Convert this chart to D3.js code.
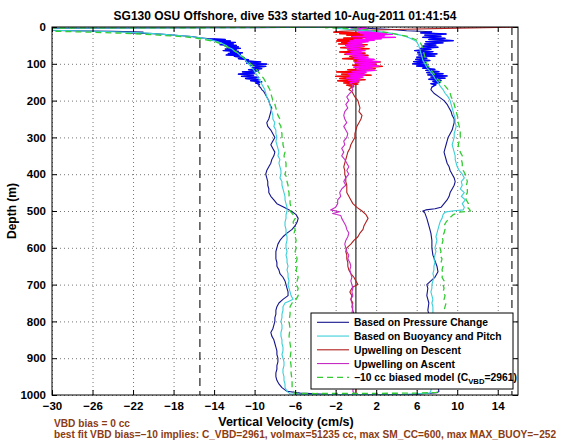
<!DOCTYPE html>
<html>
<head>
<meta charset="utf-8">
<script src="https://cdn.jsdelivr.net/npm/d3@7"></script>
<style>
  html, body { margin: 0; padding: 0; background: #fff; }
  svg { display: block; font-family: "Liberation Sans", Arial, Helvetica, sans-serif; }
</style>
</head>
<body>
<svg id="chart" width="570" height="440"></svg>
<script>
// ---------------- DATA ----------------
const titleText = "SG130 OSU Offshore, dive 533 started 10-Aug-2011 01:41:54";
const xLabel = "Vertical Velocity (cm/s)";
const yLabel = "Depth (m)";
const xTicks = [-30, -26, -22, -18, -14, -10, -6, -2, 2, 6, 10, 14];
const yTicks = [0, 100, 200, 300, 400, 500, 600, 700, 800, 900, 1000];
const xDomain = [-30, 16];
const yDomain = [0, 1000];
const limitLines = [-15.4, 15.4];
const noteLines = [
  "VBD bias = 0 cc",
  "best fit VBD bias=\u221210 implies: C_VBD=2961, volmax=51235 cc, max SM_CC=600, max MAX_BUOY=\u2212252"
];
const legendLabels = ["Based on Pressure Change", "Based on Buoyancy and Pitch", "Upwelling on Descent", "Upwelling on Ascent", "\u221210 cc biased model (C"];

// [depth (m), vertical velocity (cm/s)]
const pressureDescent = [[0,-1],[2,-12],[4,-35],[8,-35],[10,-28],[12,-24],[14,-21],[16,-22.5],[18,-20],[20,-19],[23,-17.5],[26,-16.2],[29,-15.4],[32,-14.4],[34,-12.9],[36,-14.2],[38,-12.4],[40,-13.6],[42,-11.9],[44,-13.2],[46,-12.1],[48,-13.4],[50,-11.8],[52,-12.9],[54,-11.6],[56,-12.7],[58,-11.4],[60,-12.9],[62,-11.8],[64,-13.1],[66,-11.6],[68,-12.4],[70,-11.2],[72,-12.6],[74,-11.4],[76,-12.8],[78,-11.5],[80,-12.0],[83,-11.0],[86,-11.6],[89,-10.6],[92,-10.9],[95,-9.4],[98,-10.8],[101,-8.8],[104,-10.4],[107,-8.9],[110,-10.2],[113,-9.3],[116,-10.6],[119,-9.6],[122,-11.2],[125,-10.0],[128,-11.6],[131,-10.1],[134,-11.3],[137,-9.6],[140,-10.9],[143,-9.5],[146,-10.4],[149,-9.3],[152,-9.9],[156,-9.5],[160,-9.6],[165,-9.4],[170,-9.3],[175,-9.1],[180,-9.0],[190,-8.8],[200,-8.6],[210,-8.5],[220,-8.3],[230,-8.4],[240,-8.5],[250,-8.6],[260,-8.8],[270,-8.7],[280,-8.4],[290,-8.2],[300,-8.0],[310,-8.2],[320,-8.4],[330,-8.2],[340,-8.0],[350,-8.1],[360,-8.3],[370,-8.4],[380,-8.6],[390,-8.8],[400,-8.9],[410,-8.8],[420,-8.7],[430,-8.7],[440,-8.6],[450,-8.6],[460,-8.4],[470,-8.1],[480,-7.8],[490,-7.1],[500,-6.4],[510,-5.9],[520,-5.7],[530,-5.8],[540,-6.0],[550,-6.3],[560,-6.8],[570,-7.2],[580,-7.5],[590,-7.7],[600,-7.8],[610,-7.9],[620,-7.9],[630,-7.9],[640,-7.8],[650,-7.8],[660,-7.6],[670,-7.5],[680,-7.2],[690,-7.0],[700,-6.9],[710,-6.8],[720,-6.7],[730,-6.7],[740,-7.2],[750,-7.6],[760,-7.8],[770,-7.9],[780,-7.9],[790,-8.0],[800,-8.0],[810,-8.1],[820,-8.2],[830,-8.4],[840,-8.3],[850,-8.1],[860,-8.0],[870,-7.9],[880,-7.8],[890,-7.8],[900,-7.7],[910,-7.7],[920,-7.8],[930,-7.8],[940,-7.9],[950,-7.9],[960,-7.8],[970,-7.6],[980,-7.3],[990,-6.8],[995,-5.5],[998,-3]];
const pressureAscent = [[999,0],[998,6],[994,8.0],[990,8.2],[970,8.0],[950,8.3],[930,8.1],[910,8.4],[890,8.2],[870,8.0],[850,7.8],[830,7.6],[810,7.4],[790,7.3],[770,7.1],[750,7.2],[730,7.0],[710,7.1],[700,7.0],[690,7.4],[680,7.8],[665,8.1],[650,8.0],[635,7.8],[620,7.6],[600,7.5],[580,7.5],[560,7.4],[540,7.2],[520,7.0],[505,6.8],[500,6.6],[497,6.9],[494,7.8],[490,8.4],[480,8.7],[470,9.0],[460,9.2],[450,9.3],[440,9.5],[430,9.7],[420,9.8],[410,9.7],[400,9.5],[390,9.3],[380,9.2],[370,9.0],[360,8.9],[350,8.8],[340,8.7],[330,8.8],[320,8.9],[310,9.0],[300,9.1],[290,9.3],[280,9.5],[270,9.6],[260,9.7],[250,9.7],[240,9.5],[230,9.4],[220,9.2],[210,9.0],[200,8.7],[190,8.2],[180,7.7],[170,7.4],[163,7.5],[157,7.9],[154,7.4],[151,8.3],[148,7.6],[145,8.4],[142,7.2],[139,8.8],[136,7.4],[133,9.0],[130,7.1],[127,8.6],[124,7.0],[121,8.2],[118,6.9],[115,7.8],[112,6.6],[109,7.2],[106,6.0],[103,7.1],[100,5.6],[97,6.9],[94,5.7],[91,7.3],[88,5.9],[85,7.0],[82,6.0],[79,7.8],[76,6.2],[73,8.0],[70,6.1],[67,7.6],[64,5.8],[61,7.4],[58,6.4],[55,8.1],[52,6.6],[49,7.9],[46,6.8],[43,8.6],[40,6.9],[37,9.6],[34,7.2],[31,8.8],[28,6.6],[25,8.4],[22,6.8],[19,8.9],[16,6.4],[13,7.5],[10,5],[7,3.5],[4,1.5],[2,0],[0,-1]];

const buoyancyDescent = [[0,-1],[2,-20],[3,-35],[6,-35],[8,-32],[10,-28],[13,-24],[16,-21],[20,-19],[25,-16.5],[30,-15.2],[35,-14.3],[40,-13.6],[45,-13.2],[50,-12.8],[55,-12.6],[60,-12.2],[65,-12.0],[70,-11.7],[75,-11.5],[80,-11.3],[85,-11.0],[90,-10.9],[95,-10.8],[100,-10.6],[110,-10.3],[120,-10.0],[130,-9.8],[140,-9.6],[150,-9.4],[160,-9.2],[170,-9.0],[180,-8.9],[190,-8.8],[200,-8.6],[210,-8.5],[220,-8.4],[230,-8.3],[240,-8.2],[250,-8.2],[260,-8.0],[270,-8.1],[280,-7.9],[290,-7.9],[300,-7.8],[310,-7.9],[320,-7.8],[330,-7.7],[340,-7.6],[350,-7.7],[360,-7.5],[370,-7.6],[380,-7.5],[390,-7.4],[400,-7.4],[410,-7.5],[420,-7.3],[430,-7.3],[440,-7.2],[450,-7.1],[460,-7.0],[470,-7.0],[480,-6.9],[490,-6.8],[500,-6.8],[510,-6.9],[520,-6.9],[530,-7.0],[540,-7.0],[550,-6.9],[560,-6.9],[570,-6.8],[580,-6.8],[590,-6.9],[600,-6.9],[610,-6.8],[620,-6.9],[630,-6.8],[640,-6.8],[650,-6.7],[660,-6.8],[670,-6.7],[680,-6.7],[690,-6.6],[700,-6.7],[710,-6.6],[720,-6.5],[730,-6.4],[740,-6.2],[745,-6.6],[750,-7.0],[760,-7.2],[770,-7.2],[780,-7.3],[790,-7.3],[800,-7.4],[810,-7.3],[820,-7.3],[830,-7.4],[840,-7.4],[850,-7.3],[860,-7.3],[870,-7.2],[880,-7.2],[890,-7.3],[900,-7.2],[910,-7.1],[920,-7.1],[930,-7.2],[940,-7.2],[950,-7.1],[960,-7.1],[970,-7.0],[980,-7.0],[990,-6.8],[997,-6.5]];
const buoyancyAscent = [[999,-5],[998,5],[995,7.3],[980,7.5],[960,7.6],[940,7.5],[920,7.7],[900,7.6],[880,7.5],[860,7.6],[840,7.4],[820,7.5],[800,7.5],[780,7.6],[760,7.6],[750,7.5],[740,7.6],[730,7.5],[720,7.4],[710,7.5],[700,7.5],[690,7.6],[680,7.7],[670,7.6],[660,7.7],[650,7.7],[640,7.8],[630,7.7],[620,7.8],[610,7.9],[600,7.8],[590,7.9],[580,8.0],[570,7.9],[560,8.0],[550,8.1],[540,8.2],[530,8.3],[520,8.5],[510,8.6],[503,8.8],[500,9.5],[497,10.6],[490,10.7],[480,10.5],[470,10.8],[460,10.4],[450,10.7],[440,10.3],[430,10.5],[420,10.4],[410,10.7],[400,10.5],[390,10.2],[380,10.0],[370,9.9],[360,9.8],[350,9.8],[340,9.7],[330,9.6],[320,9.5],[310,9.6],[300,9.7],[290,9.7],[280,9.8],[270,9.9],[260,9.8],[250,9.8],[240,9.7],[230,9.6],[220,9.5],[210,9.4],[200,9.3],[190,9.1],[180,8.8],[170,8.6],[160,8.3],[150,8.1],[140,7.8],[130,7.6],[120,7.3],[110,7.0],[100,6.8],[90,6.6],[80,6.5],[70,6.4],[60,6.3],[50,6.2],[40,6.0],[35,5.7],[30,5.3],[26,4.9],[22,4.4],[18,3.7],[15,3.0],[12,2.0],[10,1.1],[8,0],[6,-0.9],[3,-2],[0,-1]];

const modelDescent = [[0,-1],[2,-15],[3,-35],[7,-35],[9,-33],[12,-29],[15,-25],[18,-22],[22,-19.5],[26,-17.2],[30,-15.8],[35,-14.8],[40,-13.9],[45,-13.4],[50,-13.0],[60,-12.3],[70,-11.7],[80,-11.2],[90,-10.8],[100,-10.4],[110,-10.0],[120,-9.7],[130,-9.4],[140,-9.1],[150,-8.9],[160,-8.7],[170,-8.5],[180,-8.4],[190,-8.3],[200,-8.2],[210,-8.0],[220,-7.9],[230,-7.8],[240,-7.7],[250,-7.5],[260,-7.6],[270,-7.4],[280,-7.4],[290,-7.3],[300,-7.3],[310,-7.2],[320,-7.2],[330,-7.1],[340,-7.0],[350,-7.1],[360,-7.0],[370,-6.9],[380,-6.9],[390,-6.9],[400,-7.0],[410,-6.8],[420,-6.8],[430,-6.7],[440,-6.7],[450,-6.6],[460,-6.6],[470,-6.5],[480,-6.5],[490,-6.4],[500,-6.5],[510,-6.2],[520,-6.0],[530,-6.2],[540,-6.1],[550,-6.0],[560,-6.1],[570,-6.0],[580,-5.9],[590,-6.0],[600,-5.9],[610,-6.0],[620,-5.9],[630,-5.8],[640,-5.9],[650,-5.8],[660,-5.9],[670,-5.8],[680,-5.7],[690,-5.8],[700,-5.9],[710,-5.7],[720,-5.8],[730,-5.7],[740,-5.9],[750,-6.3],[760,-6.5],[780,-6.5],[800,-6.6],[820,-6.5],[840,-6.6],[860,-6.5],[880,-6.4],[900,-6.5],[920,-6.4],[940,-6.4],[960,-6.3],[980,-6.3],[995,-6.1]];
const modelAscent = [[996,-4],[995,6],[993,8],[980,8.2],[960,8.3],[940,8.2],[920,8.4],[900,8.3],[880,8.2],[860,8.3],[840,8.2],[820,8.3],[800,8.4],[780,8.6],[760,8.8],[750,8.9],[740,8.7],[730,8.8],[720,8.6],[710,8.7],[700,8.6],[690,8.7],[680,8.5],[670,8.6],[660,8.5],[650,8.6],[640,8.4],[630,8.5],[620,8.3],[610,8.4],[600,8.3],[590,8.5],[580,8.6],[570,8.5],[560,8.7],[550,8.8],[540,8.7],[530,8.9],[520,9.2],[510,9.6],[503,10.2],[500,11.3],[495,11.2],[490,11.0],[480,11.1],[470,10.9],[460,10.8],[450,11.0],[440,11.0],[430,10.9],[420,11.0],[410,10.9],[400,10.8],[390,10.6],[380,10.5],[370,10.5],[360,10.4],[350,10.5],[340,10.3],[330,10.2],[320,10.1],[310,10.2],[300,10.3],[290,10.3],[280,10.3],[270,10.2],[260,10.1],[250,10.1],[240,10.0],[230,9.9],[220,9.8],[210,9.7],[200,9.6],[190,9.4],[180,9.3],[170,9.1],[160,8.8],[150,8.4],[140,8.0],[130,7.8],[120,7.5],[110,7.2],[100,7.0],[90,6.9],[80,6.8],[70,6.7],[60,6.6],[50,6.5],[40,6.3],[32,5.7],[25,5.0],[18,3.7],[12,2.4],[8,1.4],[5,0],[2,-3],[0,-1]];

const upwellingDescent = [[0,17],[3,10],[6,5],[9,1],[12,-1.5],[14,-2.2],[16,0.4],[18,-1.6],[20,1.2],[22,-0.9],[24,1.8],[26,-0.4],[28,1.5],[30,-1.2],[32,0.6],[34,-1.8],[36,0.2],[38,-1.9],[40,0.9],[42,-1.4],[44,0.4],[46,-1.7],[48,1.1],[50,-1.0],[53,0.8],[56,-1.5],[59,1.3],[62,-0.8],[65,0.5],[68,-1.6],[71,0.9],[74,-1.1],[77,1.2],[80,-0.6],[83,0.7],[86,-1.3],[89,1.6],[92,-0.2],[95,2.4],[98,0.1],[101,2.0],[104,-0.3],[107,2.6],[110,0.3],[113,1.9],[116,-0.8],[119,1.0],[122,-1.9],[125,0.8],[128,-1.4],[131,1.5],[134,-2.0],[137,0.6],[140,-1.6],[143,0.9],[146,-1.8],[149,0.3],[152,-1.2],[155,0.2],[158,-0.9],[162,-0.2],[165,-0.5],[170,-0.7],[175,-0.4],[180,-0.3],[190,-0.1],[200,0.2],[210,0.3],[220,0.4],[230,0.3],[240,0.6],[250,0.5],[260,0.3],[270,0.1],[280,0.0],[290,-0.1],[300,-0.1],[310,-0.3],[320,-0.5],[330,-0.6],[340,-0.8],[350,-0.9],[360,-1.0],[370,-1.1],[380,-1.2],[390,-1.1],[400,-1.1],[410,-1.0],[420,-1.0],[430,-0.9],[440,-0.9],[450,-0.9],[460,-0.7],[470,-0.5],[480,-0.3],[490,0.1],[500,0.6],[510,1.0],[520,1.2],[530,1.0],[540,0.8],[550,0.7],[560,0.4],[570,0.2],[580,-0.2],[590,-0.5],[600,-0.9],[610,-1.0],[620,-0.9],[630,-0.9],[640,-0.8],[650,-0.8],[660,-0.7],[670,-0.5],[680,-0.2],[690,0.0],[700,0.2],[705,-0.2],[710,-0.4],[720,-0.6],[730,-0.4],[740,-0.5],[750,-0.3],[760,-0.4],[780,-0.2],[800,-0.3],[850,-0.1],[900,-0.2],[950,0.1],[995,0.0]];
const upwellingAscent = [[0,0.5],[3,1.0],[6,-0.5],[9,0.8],[12,2.2],[14,0.2],[16,3.0],[18,0.5],[20,3.6],[22,0.8],[24,2.8],[26,-0.3],[28,3.9],[30,1.0],[32,2.5],[34,-0.2],[36,1.8],[38,-0.6],[40,1.2],[43,-0.8],[46,0.6],[49,-1.0],[52,0.7],[55,-0.9],[58,0.4],[61,-0.7],[64,0.9],[67,-0.5],[70,0.6],[73,-0.9],[76,0.8],[79,-0.3],[82,1.2],[85,-0.2],[88,1.8],[91,0.2],[94,2.3],[97,-0.1],[100,1.9],[103,0.3],[106,2.2],[109,-0.2],[112,1.6],[115,0.1],[118,1.9],[121,-0.4],[124,1.0],[127,-0.8],[130,0.9],[133,-0.6],[136,0.7],[139,-0.9],[142,0.4],[145,-0.7],[148,0.2],[152,-0.6],[158,-0.2],[165,-0.4],[172,-0.3],[180,-0.6],[190,-0.9],[200,-0.7],[210,-1.0],[220,-0.8],[230,-1.1],[240,-1.2],[250,-1.1],[260,-0.9],[270,-1.2],[280,-1.0],[290,-0.8],[300,-0.9],[310,-1.2],[320,-1.1],[330,-1.4],[340,-1.2],[350,-1.4],[360,-1.1],[370,-0.9],[380,-0.7],[390,-0.9],[400,-0.7],[410,-1.0],[420,-1.2],[430,-1.0],[440,-1.4],[450,-1.6],[460,-1.5],[470,-1.8],[480,-1.8],[490,-2.0],[497,-2.5],[502,-1.6],[507,-2.3],[512,-1.5],[520,-1.4],[530,-1.2],[540,-1.0],[550,-0.9],[560,-0.7],[570,-0.8],[580,-1.0],[590,-1.1],[600,-1.0],[610,-0.9],[620,-0.7],[630,-0.8],[640,-0.6],[650,-0.5],[660,-0.6],[670,-0.5],[680,-0.4],[690,-0.5],[700,-0.4],[710,-0.3],[720,-0.4],[730,-0.3],[740,-0.5],[750,-0.4],[760,-0.3],[780,-0.4],[800,-0.5],[850,-0.3],[900,-0.4],[950,-0.2],[990,-0.3],[1000,0]];

// ---------------- CHART ----------------
const svg = d3.select("#chart");
const L = 52, R = 518, T = 27, B = 395;
const x = d3.scaleLinear().domain(xDomain).range([L, R]);
const y = d3.scaleLinear().domain(yDomain).range([T, B]);
const FONT = "bold";

svg.append("defs").append("clipPath").attr("id", "plotclip")
  .append("rect").attr("x", L).attr("y", T).attr("width", R - L).attr("height", B - T);

svg.append("rect").attr("x", L).attr("y", T).attr("width", R - L).attr("height", B - T).attr("fill", "#fff");

// grid
const grid = svg.append("g").attr("class", "grid");
grid.append("g").attr("transform", `translate(0,${B})`)
  .call(d3.axisBottom(x).tickValues(xTicks).tickSize(-(B - T)).tickFormat(""))
  .call(g => g.select(".domain").remove())
  .call(g => g.selectAll("line").attr("stroke", "#777").attr("stroke-dasharray", "1,3"));
grid.append("g").attr("transform", `translate(${L},0)`)
  .call(d3.axisLeft(y).tickValues(yTicks).tickSize(-(R - L)).tickFormat(""))
  .call(g => g.select(".domain").remove())
  .call(g => g.selectAll("line").attr("stroke", "#777").attr("stroke-dasharray", "1,3"));

const plot = svg.append("g").attr("clip-path", "url(#plotclip)");

// zero line and limits
plot.append("line").attr("x1", x(0)).attr("x2", x(0)).attr("y1", T).attr("y2", B)
  .attr("stroke", "#000").attr("stroke-width", 1);
plot.selectAll("line.limit").data(limitLines).join("line").attr("class", "limit")
  .attr("x1", d => x(d)).attr("x2", d => x(d)).attr("y1", T).attr("y2", B)
  .attr("stroke", "#222").attr("stroke-width", 1.2).attr("stroke-dasharray", "8,5");

const line = d3.line().x(d => x(d[1])).y(d => y(d[0]));
function draw(data, color, width, dash) {
  plot.append("path").datum(data).attr("d", line).attr("fill", "none")
    .attr("stroke", color).attr("stroke-width", width)
    .attr("stroke-linejoin", "round")
    .attr("stroke-dasharray", dash || null);
}
const inRange = (data, a, b) => data.filter(d => d[0] >= a && d[0] <= b);

const C = {
  pres: "#14148c", presBright: "#0000ff",
  buoy: "#3ccfd8", model: "#33cc33",
  upD: "#b01e1e", upDBright: "#ff0000",
  upA: "#c42cc4", upABright: "#ff00ff"
};

draw(pressureDescent.concat(pressureAscent), C.pres, 1.1);
draw(inRange(pressureDescent, 30, 156), C.presBright, 1.3);
draw(inRange(pressureAscent, 13, 163), C.presBright, 1.3);
draw(upwellingDescent, C.upD, 1.1);
draw(inRange(upwellingDescent, 14, 162), C.upDBright, 1.3);
draw(upwellingAscent, C.upA, 1.1);
draw(inRange(upwellingAscent, 0, 152), C.upABright, 1.3);
draw(buoyancyDescent.concat(buoyancyAscent), C.buoy, 1.1);
draw(modelDescent.concat(modelAscent), C.model, 1.3, "6,4");

// axes (inward ticks, box)
const axisStyle = g => {
  g.select(".domain").remove();
  g.selectAll("line").attr("stroke", "#000");
  g.selectAll("text").attr("font-size", 11.5).attr("font-weight", FONT).attr("fill", "#000");
};
const fmt = d => d < 0 ? "\u2212" + Math.abs(d) : String(d);
svg.append("g").attr("transform", `translate(0,${B})`)
  .call(d3.axisBottom(x).tickValues(xTicks).tickSize(-5).tickPadding(7).tickFormat(fmt)).call(axisStyle);
svg.append("g").attr("transform", `translate(0,${T})`)
  .call(d3.axisTop(x).tickValues(xTicks).tickSize(-5).tickFormat("")).call(axisStyle);
svg.append("g").attr("transform", `translate(${L},0)`)
  .call(d3.axisLeft(y).tickValues(yTicks).tickSize(-5).tickPadding(6).tickFormat(fmt)).call(axisStyle);
svg.append("g").attr("transform", `translate(${R},0)`)
  .call(d3.axisRight(y).tickValues(yTicks).tickSize(-5).tickFormat("")).call(axisStyle);
svg.append("rect").attr("x", L).attr("y", T).attr("width", R - L).attr("height", B - T)
  .attr("fill", "none").attr("stroke", "#000").attr("stroke-width", 1);

// fit a text element's font size to a target width
function fitWidth(t, target) {
  const fs = parseFloat(t.attr("font-size"));
  const w = t.node().getComputedTextLength();
  if (w > 0) t.attr("font-size", (fs * target / w).toFixed(2));
  return parseFloat(t.attr("font-size"));
}

// legend
const lg = svg.append("g");
lg.append("rect").attr("x", 311).attr("y", 313).attr("width", 202).attr("height", 76)
  .attr("fill", "#fff").attr("stroke", "#000").attr("stroke-width", 1);
const legendStyles = [
  { c: C.pres, d: null }, { c: C.buoy, d: null }, { c: C.upD, d: null }, { c: C.upA, d: null }, { c: C.model, d: "6,4" }
];
let legendFs = 11;
legendLabels.forEach((lab, i) => {
  const yy = 322.3 + i * 13.75;
  lg.append("line").attr("x1", 317).attr("x2", 349).attr("y1", yy).attr("y2", yy)
    .attr("stroke", legendStyles[i].c).attr("stroke-width", i === 4 ? 1.3 : 1.1)
    .attr("stroke-dasharray", legendStyles[i].d);
  const t = lg.append("text").attr("x", 354).attr("y", yy + 4)
    .attr("font-size", legendFs).attr("font-weight", FONT).attr("fill", "#000").text(lab);
  if (i === 0) legendFs = fitWidth(t, 134);
  if (i === 4) {
    t.append("tspan").attr("font-size", legendFs * 0.75).attr("dy", 3).text("VBD");
    t.append("tspan").attr("dy", -3).text("=2961)");
  }
});

// titles and labels
svg.append("text").attr("x", 285).attr("y", 20).attr("text-anchor", "middle")
  .attr("font-size", 12).attr("font-weight", FONT).text(titleText);
svg.append("text").attr("x", 286).attr("y", 426).attr("text-anchor", "middle")
  .attr("font-size", 12.5).attr("font-weight", FONT).text(xLabel);
svg.append("text").attr("transform", `translate(16,${(T + B) / 2}) rotate(-90)`).attr("text-anchor", "middle")
  .attr("font-size", 12).attr("font-weight", FONT).text(yLabel);
const n2 = svg.append("text").attr("x", 54).attr("y", 437.5)
  .attr("font-size", 10).attr("font-weight", FONT).attr("fill", "#8c3c14").text(noteLines[1]);
const noteFs = fitWidth(n2, 503);
svg.append("text").attr("x", 54).attr("y", 426.5)
  .attr("font-size", noteFs).attr("font-weight", FONT).attr("fill", "#8c3c14").text(noteLines[0]);
</script>
</body>
</html>
